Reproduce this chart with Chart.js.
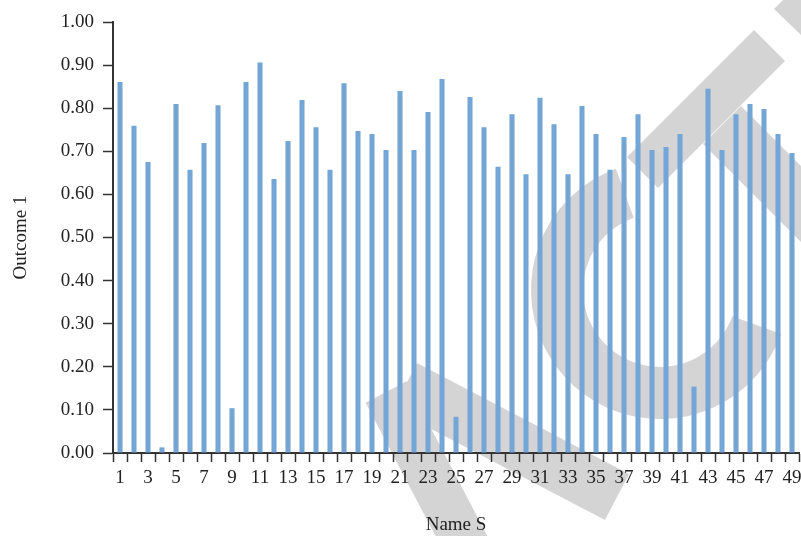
<!DOCTYPE html>
<html>
<head>
<meta charset="utf-8">
<script src="https://cdn.jsdelivr.net/npm/chart.js@4.4.0/dist/chart.umd.min.js"></script>
<style>
  html, body { margin: 0; padding: 0; background: #fff; }
  #wrap { width: 801px; height: 536px; }
</style>
</head>
<body>
<div id="wrap"><canvas id="chart" width="801" height="536"></canvas></div>
<script>
const names = ["1","2","3","4","5","6","7","8","9","10",
  "11","12","13","14","15","16","17","18","19","20",
  "21","22","23","24","25","26","27","28","29","30",
  "31","32","33","34","35","36","37","38","39","40",
  "41","42","43","44","45","46","47","48","49"];

const outcome1 = [0.861, 0.759, 0.675, 0.013, 0.810, 0.657, 0.719, 0.807, 0.104, 0.861,
  0.906, 0.636, 0.724, 0.819, 0.756, 0.657, 0.858, 0.747, 0.740, 0.703,
  0.840, 0.703, 0.791, 0.868, 0.084, 0.826, 0.756, 0.664, 0.786, 0.647,
  0.824, 0.763, 0.647, 0.805, 0.740, 0.657, 0.733, 0.786, 0.703, 0.710,
  0.740, 0.154, 0.845, 0.703, 0.786, 0.810, 0.798, 0.740, 0.696];

const yMin = 0;
const yMax = 1;
const yStep = 0.1;

const FONT = "'Liberation Serif', 'DejaVu Serif', serif";
const INK = "#222";
const AXIS = "#333";

// light grey stamp behind the plot
const watermark = {
  id: "watermark",
  beforeDraw(chart) {
    const ctx = chart.ctx;
    ctx.save();
    ctx.fillStyle = "#d4d4d4";
    ctx.strokeStyle = "#d4d4d4";
    const poly = (pts) => {
      ctx.beginPath();
      ctx.moveTo(pts[0][0], pts[0][1]);
      for (let i = 1; i < pts.length; i++) ctx.lineTo(pts[i][0], pts[i][1]);
      ctx.closePath();
      ctx.fill();
    };
    poly([[754, 30], [785, 61], [658, 188], [627, 157]]);
    poly([[774, 9], [783, 0], [801, 0], [801, 35]]);
    poly([[741, 106], [830, 195], [830, 271], [703, 144]]);
    ctx.lineCap = "butt";
    ctx.lineWidth = 52;
    ctx.beginPath();
    ctx.arc(660, 290, 103, 20 * Math.PI / 180, 250 * Math.PI / 180);
    ctx.stroke();
    ctx.lineWidth = 52;
    ctx.beginPath();
    ctx.moveTo(405, 386);
    ctx.lineTo(617, 497);
    ctx.stroke();
    ctx.lineWidth = 46;
    ctx.beginPath();
    ctx.moveTo(386, 392);
    ctx.lineTo(474, 560);
    ctx.stroke();
    ctx.restore();
  }
};

new Chart(document.getElementById("chart"), {
  type: "bar",
  data: {
    labels: names,
    datasets: [{
      label: "Outcome 1",
      data: outcome1,
      backgroundColor: "#73a5d7",
      borderWidth: 0,
      barPercentage: 0.36,
      categoryPercentage: 1.0
    }]
  },
  options: {
    responsive: false,
    animation: false,
    layout: { padding: { top: 22, right: 2, left: 0, bottom: 0 } },
    plugins: {
      legend: { display: false },
      tooltip: { enabled: false }
    },
    scales: {
      x: {
        grid: { drawOnChartArea: false, drawTicks: true, tickLength: 9, tickColor: AXIS, tickWidth: 1.5 },
        border: { color: AXIS, width: 2 },
        ticks: {
          autoSkip: false,
          maxRotation: 0,
          padding: 5,
          color: INK,
          font: { family: FONT, size: 19 },
          callback: (v, i) => (i % 2 === 0 ? names[i] : "")
        },
        title: {
          display: true,
          text: "Name S",
          color: INK,
          font: { family: FONT, size: 19 },
          padding: { top: 0, bottom: 0 }
        },
        afterFit(scale) {
          scale.height = 83;
          scale.paddingLeft = 0;
          scale.paddingRight = 0;
        }
      },
      y: {
        min: yMin,
        max: yMax,
        grid: { drawOnChartArea: false, drawTicks: true, tickLength: 10, tickColor: AXIS, tickWidth: 1.5 },
        border: { color: AXIS, width: 2 },
        ticks: {
          stepSize: yStep,
          padding: 9,
          color: INK,
          font: { family: FONT, size: 19 },
          callback: (v) => Number(v).toFixed(2)
        },
        title: {
          display: true,
          text: "Outcome 1",
          color: INK,
          font: { family: FONT, size: 19 },
          padding: { top: 10, bottom: 0 }
        },
        afterFit(scale) {
          scale.width = 113;
          scale.paddingTop = 0;
          scale.paddingBottom = 0;
        }
      }
    }
  },
  plugins: [watermark]
});
</script>
</body>
</html>
